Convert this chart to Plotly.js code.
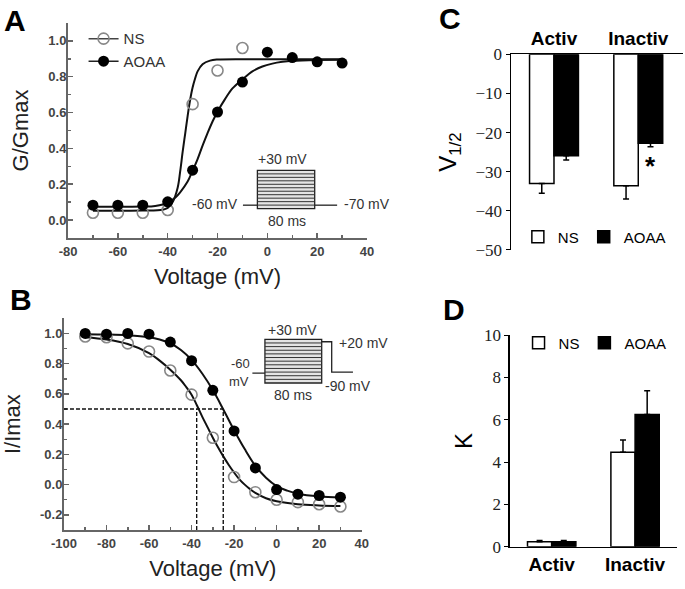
<!DOCTYPE html>
<html>
<head>
<meta charset="utf-8">
<script src="https://cdn.plot.ly/plotly-3.0.1.min.js"></script>
<style>
  html, body { margin: 0; padding: 0; background: #fff; }
  #fig { width: 685px; height: 589px; }
</style>
</head>
<body>
<div id="fig"></div>
<script>
// Panel A: activation (G/Gmax vs voltage)
const voltsA = [-70, -60, -50, -40, -30, -20, -10, 0, 10, 20, 30];
const voltsNsA = [-70, -60, -50, -40, -30, -20, -10];
const nsA = [0.041, 0.041, 0.041, 0.056, 0.647, 0.835, 0.96];
const aoaaA = [0.083, 0.083, 0.083, 0.102, 0.278, 0.603, 0.77, 0.937, 0.907, 0.883, 0.876];
// fitted curves
const fitNsAx = [-70, -50, -42, -40, -38, -36, -35, -34, -33, -32, -31, -30, -29, -28, -26, -23, -20, -10, 0, 30];
const fitNsAy = [0.052, 0.053, 0.058, 0.068, 0.1, 0.18, 0.27, 0.38, 0.48, 0.58, 0.67, 0.74, 0.79, 0.83, 0.87, 0.89, 0.896, 0.898, 0.898, 0.898];
const fitAoaaAx = [-70, -50, -45, -40, -37, -35, -32, -30, -28, -26, -24, -22, -20, -17, -14, -10, -6, -2, 2, 6, 10, 20, 30];
const fitAoaaAy = [0.074, 0.075, 0.079, 0.095, 0.125, 0.155, 0.215, 0.275, 0.34, 0.415, 0.485, 0.55, 0.605, 0.675, 0.735, 0.785, 0.83, 0.857, 0.873, 0.883, 0.889, 0.894, 0.895];

// Panel B: inactivation (I/Imax vs voltage)
const voltsB = [-90, -80, -70, -60, -50, -40, -30, -20, -10, 0, 10, 20, 30];
const nsB = [0.98, 0.975, 0.934, 0.88, 0.755, 0.595, 0.31, 0.05, -0.05, -0.1, -0.116, -0.13, -0.145];
const aoaaB = [1.0, 0.995, 1.0, 0.995, 0.943, 0.82, 0.624, 0.355, 0.11, -0.033, -0.063, -0.072, -0.083];
const fitNsBx = [-90, -80, -70, -60, -55, -50, -45, -42.5, -40, -37.5, -35, -32.5, -30, -27.5, -25, -22.5, -20, -17.5, -15, -12.5, -10, -5, 0, 10, 20, 30];
const fitNsBy = [0.975, 0.96, 0.93, 0.87, 0.82, 0.76, 0.69, 0.645, 0.595, 0.525, 0.45, 0.38, 0.31, 0.245, 0.185, 0.13, 0.08, 0.035, 0.0, -0.03, -0.055, -0.09, -0.11, -0.13, -0.138, -0.142];
const fitAoaaBx = [-90, -80, -70, -60, -55, -50, -45, -40, -35, -30, -25, -20, -15, -10, -5, 0, 5, 10, 20, 30];
const fitAoaaBy = [0.995, 0.993, 0.988, 0.975, 0.96, 0.935, 0.89, 0.825, 0.735, 0.625, 0.495, 0.36, 0.235, 0.125, 0.045, -0.01, -0.04, -0.06, -0.078, -0.085];
const halfV = [-37.6, -25.1]; // dashed guides at I/Imax = 0.5

// tick labels (the figure prints plain hyphens)
const tickVoltA = [-80, -60, -40, -20, 0, 20, 40];
const tickVoltAText = ['-80', '-60', '-40', '-20', '0', '20', '40'];
const tickVoltB = [-100, -80, -60, -40, -20, 0, 20, 40];
const tickVoltBText = ['-100', '-80', '-60', '-40', '-20', '0', '20', '40'];
const tickRatioA = [0, 0.2, 0.4, 0.6, 0.8, 1.0];
const tickRatioAText = ['0.0', '0.2', '0.4', '0.6', '0.8', '1.0'];
const tickRatioB = [-0.2, 0, 0.2, 0.4, 0.6, 0.8, 1.0];
const tickRatioBText = ['-0.2', '0.0', '0.2', '0.4', '0.6', '0.8', '1.0'];

// Panels C and D: summary bars
const groups = ['Activ', 'Inactiv'];
const vHalfNs = [-33.0, -33.6];
const vHalfNsErr = [2.5, 3.4];
const vHalfAoaa = [-25.9, -22.7];
const vHalfAoaaErr = [1.1, 0.9];
const kNs = [0.24, 4.46];
const kNsErr = [0.05, 0.58];
const kAoaa = [0.24, 6.25];
const kAoaaErr = [0.05, 1.12];

const sans = 'Liberation Sans, Arial, sans-serif';
const serif = 'Liberation Serif, Times New Roman, serif';
const grayAxis = '#666';
const tickFontAB = { family: sans, size: 13, color: '#444', weight: 'bold' };
const openMarker = { symbol: 'circle-open', size: 11, color: '#888', line: { width: 1.6, color: '#888' } };
const fillMarker = { symbol: 'circle', size: 11, color: '#000' };

const fitLine = { color: '#111', width: 2, shape: 'spline' };

const traces = [
    // A
    { x: fitNsAx, y: fitNsAy, xaxis: 'x', yaxis: 'y', mode: 'lines', line: fitLine, showlegend: false, hoverinfo: 'skip' },
    { x: fitAoaaAx, y: fitAoaaAy, xaxis: 'x', yaxis: 'y', mode: 'lines', line: fitLine, showlegend: false, hoverinfo: 'skip' },
    { x: voltsNsA, y: nsA, xaxis: 'x', yaxis: 'y', mode: 'markers', marker: openMarker, showlegend: false },
    { x: voltsA, y: aoaaA, xaxis: 'x', yaxis: 'y', mode: 'markers', marker: fillMarker, showlegend: false },
    // legend entries for A (no data)
    { x: [null], y: [null], xaxis: 'x', yaxis: 'y', mode: 'lines+markers', name: 'NS', legend: 'legend',
      line: { color: '#444', width: 1.5 }, marker: openMarker },
    { x: [null], y: [null], xaxis: 'x', yaxis: 'y', mode: 'lines+markers', name: 'AOAA', legend: 'legend',
      line: { color: '#222', width: 1.5 }, marker: fillMarker },
    // B
    { x: fitNsBx, y: fitNsBy, xaxis: 'x2', yaxis: 'y2', mode: 'lines', line: fitLine, showlegend: false, hoverinfo: 'skip' },
    { x: fitAoaaBx, y: fitAoaaBy, xaxis: 'x2', yaxis: 'y2', mode: 'lines', line: fitLine, showlegend: false, hoverinfo: 'skip' },
    { x: voltsB, y: nsB, xaxis: 'x2', yaxis: 'y2', mode: 'markers', marker: openMarker, showlegend: false },
    { x: voltsB, y: aoaaB, xaxis: 'x2', yaxis: 'y2', mode: 'markers', marker: fillMarker, showlegend: false },
    // C
    { type: 'bar', x: groups, y: vHalfNs, xaxis: 'x3', yaxis: 'y3', name: 'NS', legend: 'legend2',
      marker: { color: '#fff', line: { color: '#000', width: 1.5 } },
      error_y: { type: 'data', symmetric: false, array: [0, 0], arrayminus: vHalfNsErr, color: '#000', thickness: 1.5, width: 3 } },
    { type: 'bar', x: groups, y: vHalfAoaa, xaxis: 'x3', yaxis: 'y3', name: 'AOAA', legend: 'legend2',
      marker: { color: '#000', line: { color: '#000', width: 1.5 } },
      error_y: { type: 'data', symmetric: false, array: [0, 0], arrayminus: vHalfAoaaErr, color: '#000', thickness: 1.5, width: 3 } },
    // D
    { type: 'bar', x: groups, y: kNs, xaxis: 'x4', yaxis: 'y4', name: 'NS', legend: 'legend3',
      marker: { color: '#fff', line: { color: '#000', width: 1.5 } },
      error_y: { type: 'data', symmetric: false, array: kNsErr, arrayminus: [0, 0], color: '#000', thickness: 1.5, width: 3 } },
    { type: 'bar', x: groups, y: kAoaa, xaxis: 'x4', yaxis: 'y4', name: 'AOAA', legend: 'legend3',
      marker: { color: '#000', line: { color: '#000', width: 1.5 } },
      error_y: { type: 'data', symmetric: false, array: kAoaaErr, arrayminus: [0, 0], color: '#000', thickness: 1.5, width: 3 } }
];

// stimulus protocol insets (schematic)
const shapes = [];
const annotations = [];
function inset(xr, yr, box, nLines) {
    shapes.push({ type: 'rect', xref: xr, yref: yr, x0: box.x0, x1: box.x1, y0: box.y0, y1: box.y1,
        line: { color: '#222', width: 1.3 }, fillcolor: '#e4e4e4', layer: 'above' });
    for (let i = 1; i < nLines; i++) {
        const yy = box.y0 + (box.y1 - box.y0) * i / nLines;
        shapes.push({ type: 'line', xref: xr, yref: yr, x0: box.x0, x1: box.x1, y0: yy, y1: yy,
            line: { color: '#333', width: 1 } });
    }
}
const pathLine = { color: '#222', width: 1.3 };
inset('x', 'y', { x0: -4, x1: 19, y0: 0.064, y1: 0.277 }, 11);
shapes.push({ type: 'line', xref: 'x', yref: 'y', x0: -9.8, x1: -4, y0: 0.083, y1: 0.083, line: pathLine });
shapes.push({ type: 'line', xref: 'x', yref: 'y', x0: 19, x1: 28, y0: 0.083, y1: 0.083, line: pathLine });
inset('x2', 'y2', { x0: -5.5, x1: 21.2, y0: 0.672, y1: 0.961 }, 12);
shapes.push({ type: 'line', xref: 'x2', yref: 'y2', x0: -11.4, x1: -5.5, y0: 0.7375, y1: 0.7375, line: pathLine });
shapes.push({ type: 'path', xref: 'x2', yref: 'y2', path: 'M21.2,0.945 L25.9,0.945 L25.9,0.744 L35.9,0.744', line: pathLine });

// dashed V1/2 guides in B
const dashLine = { color: '#111', width: 1.4, dash: '4px,2px' };
shapes.push({ type: 'line', xref: 'x2', yref: 'y2', x0: -100, x1: halfV[1], y0: 0.5, y1: 0.5, line: dashLine });
halfV.forEach(v => shapes.push({ type: 'line', xref: 'x2', yref: 'y2', x0: v, x1: v, y0: -0.3, y1: 0.5, line: dashLine }));

function label(xr, yr, x, y, text, anchor, size) {
    annotations.push({ xref: xr, yref: yr, x: x, y: y, text: text, showarrow: false,
        font: { family: sans, size: size || 14, color: '#333' }, xanchor: anchor || 'center', yanchor: 'middle' });
}
label('x', 'y', 6, 0.338, '+30 mV');
label('x', 'y', -11, 0.088, '-60 mV', 'right');
label('x', 'y', 30, 0.088, '-70 mV', 'left');
label('x', 'y', 8, -0.007, '80 ms');
label('x2', 'y2', 7.7, 1.022, '+30 mV');
label('x2', 'y2', 28.5, 0.938, '+20 mV', 'left');
label('x2', 'y2', -17.2, 0.8, '-60', 'center', 13);
label('x2', 'y2', -17.7, 0.68, 'mV', 'center', 13);
label('x2', 'y2', 33.6, 0.654, '-90 mV');
label('x2', 'y2', 7.5, 0.595, '80 ms');

// significance star
annotations.push({ xref: 'x3', yref: 'y3', x: 1.145, y: -28.6, text: '*', showarrow: false,
    font: { family: sans, size: 26, color: '#000', weight: 'bold' } });

// panel letters
[['A', 0.022, 0.965], ['B', 0.031, 0.491], ['C', 0.657, 0.969], ['D', 0.663, 0.474]].forEach(p => {
    annotations.push({ xref: 'paper', yref: 'paper', x: p[1], y: p[2], text: p[0], showarrow: false,
        font: { family: sans, size: 30, color: '#000', weight: 'bold' }, xanchor: 'center', yanchor: 'middle' });
});

const voltAxis = (domain, range, vals, text) => ({
    domain: domain, range: range, tickmode: 'array', tickvals: vals, ticktext: text,
    showline: true, linecolor: grayAxis, linewidth: 2,
    ticks: 'inside', ticklen: 5, tickwidth: 1.5, tickcolor: grayAxis, showgrid: false, zeroline: false,
    tickfont: tickFontAB, minor: { ticks: 'inside', ticklen: 3, tickmode: 'linear', tick0: 0, dtick: 10, tickcolor: grayAxis },
    title: { text: 'Voltage (mV)', font: { family: sans, size: 22, color: '#222' }, standoff: 11 }
});
const ratioAxis = (domain, range, vals, text, title) => ({
    domain: domain, range: range, tickmode: 'array', tickvals: vals, ticktext: text,
    showline: true, linecolor: grayAxis, linewidth: 2,
    ticks: 'inside', ticklen: 5, tickwidth: 1.5, tickcolor: grayAxis, showgrid: false, zeroline: false,
    tickfont: tickFontAB, ticklabelstandoff: -3,
    minor: { ticks: 'inside', ticklen: 3, tickmode: 'linear', tick0: 0, dtick: 0.1, tickcolor: grayAxis },
    title: { text: title, font: { family: sans, size: 22, color: '#222' }, standoff: 14 }
});

const layout = {
    width: 685, height: 589,
    margin: { l: 0, r: 0, t: 0, b: 0 },
    paper_bgcolor: '#fff', plot_bgcolor: 'rgba(0,0,0,0)',
    barmode: 'group', bargap: 0.42, bargroupgap: 0,
    xaxis: { ...voltAxis([0.0993, 0.5358], [-80, 40], tickVoltA, tickVoltAText), anchor: 'y' },
    yaxis: { ...ratioAxis([0.596, 0.961], [-0.1, 1.1], tickRatioA, tickRatioAText, 'G/Gmax'), anchor: 'x' },
    xaxis2: { ...voltAxis([0.0934, 0.528], [-100, 40], tickVoltB, tickVoltBText), anchor: 'y2' },
    yaxis2: { ...ratioAxis([0.1002, 0.4596], [-0.3, 1.1], tickRatioB, tickRatioBText, 'I/Imax'), anchor: 'x2' },
    xaxis3: {
        domain: [0.746, 0.997], range: [-0.51, 1.53], anchor: 'y3', side: 'top', type: 'category',
        showline: true, linecolor: '#000', linewidth: 1.5, ticks: '', showgrid: false, zeroline: false,
        tickfont: { family: sans, size: 19, color: '#000', weight: 'bold' }
    },
    yaxis3: {
        domain: [0.5756, 0.9078], range: [-50, 0], dtick: 10, anchor: 'x3',
        showline: true, linecolor: '#000', linewidth: 1.5, ticks: 'outside', ticklen: 4, tickcolor: '#000',
        showgrid: false, zeroline: false, tickfont: { family: serif, size: 17, color: '#222' },
        title: { text: 'V<sub>1/2</sub>', font: { family: sans, size: 24, color: '#000' }, standoff: 12 }
    },
    xaxis4: {
        domain: [0.7445, 0.988], range: [-0.5, 1.5], anchor: 'y4', type: 'category',
        showline: true, linecolor: '#000', linewidth: 1.5, ticks: '', showgrid: false, zeroline: false,
        tickfont: { family: sans, size: 19, color: '#000', weight: 'bold' }
    },
    yaxis4: {
        domain: [0.0718, 0.4312], range: [0, 10], dtick: 2, anchor: 'x4',
        showline: true, linecolor: '#000', linewidth: 1.5, ticks: 'outside', ticklen: 4, tickcolor: '#000',
        showgrid: false, zeroline: false, tickfont: { family: serif, size: 17, color: '#222' },
        title: { text: 'K', font: { family: sans, size: 24, color: '#000' }, standoff: 4 }
    },
    legend: {
        x: 0.122, y: 0.962, xanchor: 'left', yanchor: 'top', bgcolor: 'rgba(0,0,0,0)',
        font: { family: sans, size: 15, color: '#333' }, itemwidth: 30, tracegroupgap: 0
    },
    legend2: {
        orientation: 'h', x: 0.756, y: 0.5976, xanchor: 'left', yanchor: 'middle', bgcolor: 'rgba(0,0,0,0)',
        font: { family: sans, size: 15, color: '#000' }, itemwidth: 30
    },
    legend3: {
        orientation: 'h', x: 0.757, y: 0.4177, xanchor: 'left', yanchor: 'middle', bgcolor: 'rgba(0,0,0,0)',
        font: { family: sans, size: 15, color: '#000' }, itemwidth: 30
    },
    shapes: shapes,
    annotations: annotations,
    showlegend: true
};

Plotly.newPlot('fig', traces, layout, { displayModeBar: false, staticPlot: true });
</script>
</body>
</html>
